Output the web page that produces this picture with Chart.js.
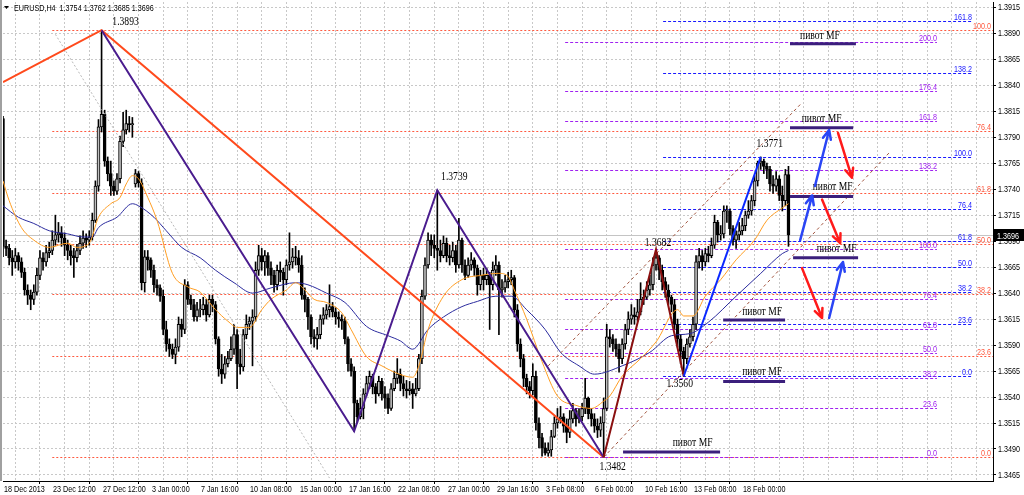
<!DOCTYPE html>
<html>
<head>
<meta charset="utf-8">
<script src="https://cdn.jsdelivr.net/npm/chart.js@4.4.1/dist/chart.umd.min.js"></script>
<style>
html, body { margin: 0; padding: 0; background: #fff; }
#wrap { position: relative; width: 1024px; height: 495px; }
</style>
</head>
<body>
<div id="wrap"><canvas id="chart"></canvas></div>
<script>
// ==================== DATA ====================
const symbolTitle = 'EURUSD,H4';
const lastQuote = [1.3754, 1.3762, 1.3685, 1.3696]; // O H L C of last bar

const timeLabels = ['18 Dec 2013', '23 Dec 12:00', '27 Dec 12:00', '3 Jan 00:00', '7 Jan 16:00', '10 Jan 08:00',
    '15 Jan 00:00', '17 Jan 16:00', '22 Jan 08:00', '27 Jan 00:00', '29 Jan 16:00', '3 Feb 08:00',
    '6 Feb 00:00', '10 Feb 16:00', '13 Feb 08:00', '18 Feb 00:00'];

const priceTicks = [1.3465, 1.3490, 1.3515, 1.3540, 1.3565, 1.3590, 1.3615, 1.3640, 1.3665, 1.3690,
    1.3715, 1.3740, 1.3765, 1.3790, 1.3815, 1.3840, 1.3865, 1.3890, 1.3915];

const firstOpen = 1.3808;
const gapOpens = { 43: 1.3745 };

const closes = [
    1.3685,1.3683,1.3674,1.3670,1.3676,1.3670,1.3660,1.3643,1.3638,1.3634,1.3641,1.3657,1.3674,1.3670,1.3679,1.3681,
    1.3691,1.3696,1.3698,1.3693,1.3686,1.3681,1.3676,1.3674,1.3681,1.3688,1.3693,1.3691,1.3694,1.3710,1.3743,1.3800,
    1.3812,1.3767,1.3755,1.3743,1.3738,1.3750,1.3786,1.3797,1.3803,1.3802,1.3803,1.3755,1.3746,1.3650,1.3675,1.3672,
    1.3662,1.3648,1.3645,1.3637,1.3605,1.3591,1.3586,1.3581,1.3588,1.3610,1.3605,1.3648,1.3634,1.3629,1.3617,1.3624,
    1.3624,1.3629,1.3619,1.3634,1.3629,1.3596,1.3567,1.3562,1.3572,1.3577,1.3586,1.3600,1.3572,1.3569,1.3600,1.3610,
    1.3613,1.3617,1.3662,1.3676,1.3670,1.3676,1.3664,1.3657,1.3648,1.3662,1.3660,1.3653,1.3667,1.3670,1.3675,1.3674,
    1.3667,1.3638,1.3634,1.3617,1.3598,1.3596,1.3600,1.3615,1.3619,1.3624,1.3627,1.3622,1.3617,1.3615,1.3613,1.3596,
    1.3572,1.3565,1.3534,1.3521,1.3529,1.3543,1.3553,1.3560,1.3550,1.3543,1.3555,1.3543,1.3539,1.3529,1.3548,1.3558,
    1.3562,1.3553,1.3548,1.3546,1.3548,1.3543,1.3548,1.3577,1.3637,1.3667,1.3691,1.3686,1.3683,1.3681,1.3676,1.3688,
    1.3676,1.3674,1.3681,1.3667,1.3691,1.3667,1.3657,1.3667,1.3672,1.3664,1.3648,1.3657,1.3653,1.3657,1.3648,1.3662,
    1.3667,1.3643,1.3645,1.3651,1.3653,1.3655,1.3624,1.3591,1.3577,1.3558,1.3550,1.3546,1.3560,1.3515,1.3501,1.3491,
    1.3486,1.3489,1.3502,1.3515,1.3519,1.3521,1.3512,1.3506,1.3519,1.3527,1.3519,1.3521,1.3529,1.3539,1.3524,1.3519,
    1.3512,1.3508,1.3515,1.3529,1.3598,1.3596,1.3591,1.3586,1.3577,1.3591,1.3605,1.3615,1.3619,1.3617,1.3622,1.3634,
    1.3636,1.3643,1.3648,1.3667,1.3674,1.3662,1.3651,1.3643,1.3636,1.3629,1.3610,1.3596,1.3584,1.3577,1.3591,1.3598,
    1.3610,1.3670,1.3676,1.3670,1.3678,1.3676,1.3686,1.3708,1.3696,1.3697,1.3719,1.3719,1.3702,1.3691,1.3696,1.3700,
    1.3705,1.3715,1.3719,1.3729,1.3748,1.3765,1.3767,1.3762,1.3759,1.3745,1.3743,1.3750,1.3734,1.3729,1.3754,1.3696
];
const highs = [
    1.3810,1.3691,1.3687,1.3681,1.3683,1.3679,1.3674,1.3664,1.3648,1.3643,1.3648,1.3664,1.3681,1.3679,1.3686,1.3689,
    1.3700,1.3715,1.3708,1.3704,1.3698,1.3691,1.3686,1.3683,1.3687,1.3695,1.3700,1.3697,1.3700,1.3717,1.3748,1.3807,
    1.3893,1.3816,1.3771,1.3767,1.3748,1.3755,1.3791,1.3814,1.3816,1.3810,1.3809,1.3759,1.3757,1.3750,1.3681,1.3681,
    1.3674,1.3667,1.3653,1.3648,1.3643,1.3613,1.3596,1.3591,1.3596,1.3617,1.3615,1.3653,1.3651,1.3638,1.3634,1.3631,
    1.3634,1.3636,1.3634,1.3638,1.3638,1.3632,1.3598,1.3581,1.3579,1.3584,1.3598,1.3610,1.3605,1.3586,1.3605,1.3619,
    1.3617,1.3624,1.3670,1.3686,1.3683,1.3681,1.3679,1.3670,1.3662,1.3667,1.3670,1.3664,1.3672,1.3698,1.3683,1.3685,
    1.3681,1.3676,1.3645,1.3636,1.3619,1.3605,1.3607,1.3619,1.3626,1.3629,1.3648,1.3631,1.3626,1.3622,1.3619,1.3617,
    1.3598,1.3577,1.3569,1.3537,1.3539,1.3548,1.3560,1.3565,1.3562,1.3553,1.3560,1.3558,1.3550,1.3543,1.3553,1.3565,
    1.3577,1.3567,1.3560,1.3556,1.3555,1.3553,1.3558,1.3581,1.3643,1.3674,1.3698,1.3696,1.3696,1.3739,1.3691,1.3695,
    1.3693,1.3686,1.3689,1.3686,1.3712,1.3693,1.3672,1.3674,1.3679,1.3674,1.3667,1.3662,1.3664,1.3664,1.3660,1.3670,
    1.3676,1.3670,1.3653,1.3657,1.3660,1.3662,1.3657,1.3629,1.3596,1.3581,1.3562,1.3555,1.3572,1.3565,1.3520,1.3505,
    1.3496,1.3496,1.3508,1.3521,1.3529,1.3531,1.3524,1.3519,1.3527,1.3534,1.3529,1.3529,1.3534,1.3558,1.3540,1.3529,
    1.3524,1.3519,1.3521,1.3539,1.3610,1.3605,1.3600,1.3596,1.3591,1.3596,1.3610,1.3622,1.3629,1.3626,1.3634,1.3650,
    1.3643,1.3651,1.3657,1.3674,1.3682,1.3676,1.3667,1.3655,1.3648,1.3638,1.3634,1.3615,1.3600,1.3588,1.3596,1.3605,
    1.3617,1.3676,1.3683,1.3681,1.3683,1.3685,1.3693,1.3715,1.3710,1.3705,1.3724,1.3724,1.3721,1.3705,1.3700,1.3708,
    1.3712,1.3719,1.3729,1.3734,1.3753,1.3767,1.3771,1.3769,1.3765,1.3762,1.3753,1.3757,1.3753,1.3743,1.3759,1.3762
];
const lows = [
    1.3675,1.3676,1.3667,1.3657,1.3664,1.3662,1.3655,1.3638,1.3629,1.3624,1.3629,1.3638,1.3653,1.3662,1.3666,1.3674,
    1.3677,1.3686,1.3689,1.3685,1.3676,1.3672,1.3667,1.3655,1.3670,1.3677,1.3683,1.3684,1.3686,1.3691,1.3708,1.3738,
    1.3795,1.3762,1.3748,1.3734,1.3734,1.3735,1.3746,1.3781,1.3793,1.3795,1.3790,1.3742,1.3742,1.3643,1.3641,1.3662,
    1.3655,1.3641,1.3638,1.3632,1.3600,1.3584,1.3579,1.3577,1.3572,1.3584,1.3598,1.3601,1.3629,1.3624,1.3613,1.3613,
    1.3617,1.3619,1.3613,1.3617,1.3622,1.3591,1.3560,1.3553,1.3558,1.3569,1.3575,1.3581,1.3548,1.3562,1.3565,1.3596,
    1.3605,1.3570,1.3613,1.3657,1.3662,1.3657,1.3657,1.3648,1.3641,1.3643,1.3651,1.3638,1.3648,1.3662,1.3664,1.3667,
    1.3660,1.3634,1.3622,1.3605,1.3591,1.3588,1.3586,1.3596,1.3610,1.3615,1.3617,1.3617,1.3610,1.3607,1.3605,1.3591,
    1.3565,1.3560,1.3507,1.3515,1.3519,1.3519,1.3541,1.3548,1.3543,1.3534,1.3541,1.3537,1.3529,1.3524,1.3527,1.3546,
    1.3553,1.3546,1.3541,1.3539,1.3542,1.3529,1.3541,1.3546,1.3572,1.3634,1.3664,1.3676,1.3674,1.3662,1.3670,1.3674,
    1.3670,1.3667,1.3670,1.3660,1.3664,1.3660,1.3653,1.3655,1.3662,1.3657,1.3638,1.3643,1.3643,1.3648,1.3605,1.3643,
    1.3657,1.3600,1.3636,1.3641,1.3645,1.3648,1.3617,1.3584,1.3569,1.3550,1.3543,1.3539,1.3542,1.3508,1.3491,1.3483,
    1.3484,1.3483,1.3483,1.3501,1.3510,1.3515,1.3506,1.3496,1.3501,1.3515,1.3512,1.3515,1.3517,1.3524,1.3519,1.3512,
    1.3506,1.3501,1.3502,1.3482,1.3527,1.3588,1.3584,1.3579,1.3564,1.3572,1.3586,1.3600,1.3610,1.3610,1.3613,1.3619,
    1.3629,1.3634,1.3638,1.3643,1.3662,1.3653,1.3643,1.3636,1.3629,1.3622,1.3605,1.3588,1.3572,1.3560,1.3572,1.3588,
    1.3594,1.3605,1.3664,1.3662,1.3666,1.3670,1.3674,1.3683,1.3689,1.3691,1.3693,1.3708,1.3696,1.3686,1.3683,1.3691,
    1.3696,1.3700,1.3712,1.3715,1.3724,1.3743,1.3759,1.3755,1.3750,1.3738,1.3736,1.3738,1.3729,1.3719,1.3724,1.3685
];

// moving averages at a few bars
const maFastBars = [0,2,6,10,15,21,24,28,31,35,38,40,42,44,47,50,55,60,64,69,73,76,80,84,87,92,95,98,101,105,
    110,113,118,123,127,133,135,138,143,149,155,161,164,166,170,175,180,186,191,195,197,201,207,212,219,221,224,228,233,238,
    244,248,253,255];
const maFastValues = [1.3748,1.3729,1.3703,1.3691,1.3684,1.3688,1.3684,1.3688,1.3713,1.3726,1.3732,1.3745,1.3753,1.3750,1.3732,
    1.3710,1.3659,1.3646,1.3641,1.3624,1.3613,1.3607,1.3607,1.3624,1.3634,1.3643,1.3650,1.3643,1.3634,1.3631,1.3621,1.3605,
    1.3579,1.3570,1.3564,1.3559,1.3570,1.3605,1.3637,1.3653,1.3657,1.3659,1.3656,1.3643,1.3615,1.3574,1.3541,1.3532,1.3529,
    1.3536,1.3541,1.3560,1.3577,1.3593,1.3624,1.3618,1.3618,1.3637,1.3653,1.3672,1.3691,1.3710,1.3722,1.3726];
const maSlowBars = [0,5,10,15,21,26,29,31,37,42,44,49,53,58,64,69,75,81,87,95,99,105,111,118,125,129,133,138,143,149,
    154,160,165,170,176,181,187,192,201,210,217,223,229,238,246,253,255];
const maSlowValues = [1.3724,1.3713,1.3707,1.3700,1.3697,1.3694,1.3694,1.3703,1.3713,1.3726,1.3724,1.3713,1.3700,1.3684,1.3674,
    1.3662,1.3650,1.3640,1.3645,1.3650,1.3648,1.3640,1.3631,1.3608,1.3599,1.3594,1.3586,1.3605,1.3617,1.3627,1.3632,1.3637,
    1.3637,1.3624,1.3605,1.3583,1.3570,1.3562,1.3570,1.3583,1.3599,1.3601,1.3612,1.3637,1.3659,1.3678,1.3681];

// swing points of the wave markup
const swingBars = [32, 114, 141, 195, 212, 221, 246];
const swingPrices = [1.3893, 1.3507, 1.3739, 1.3482, 1.3682, 1.3560, 1.3771];
const swingLabelShift = [[24, -5], null, [17, -10], [9, 13], [2, -3], [-4, 11], [9, -10]];

const trendStart = [0, 1.3843];

// fibo levels (percent)
const fiboShort = [0, 23.6, 38.2, 50, 61.8, 76.4, 100];
const fiboMid = [0, 23.6, 38.2, 50, 61.8, 76.4, 100, 138.2, 161.8];
const fiboLong = [0, 23.6, 38.2, 50, 61.8, 76.4, 100, 138.2, 161.8, 176.4, 200];

// "pivot MF" marks
const pivotPrices = [1.3880, 1.3799, 1.3733, 1.3674, 1.3614, 1.3555, 1.3487];
const pivotFrom = [255.5, 255.5, 255.5, 256.5, 233.8, 233.8, 201.3];
const pivotTo = [276.9, 276.0, 276.0, 277.6, 253.9, 253.9, 232.8];
const pivotTextShift = [[-3, -5], [0, -6], [11, -6], [11, -6], [8, -5], [8, -6], [21, -6]];

// arrows: [barFrom, priceFrom, barTo, priceTo]
const blueArrows = [[263.6, 1.3743, 268.2, 1.3797], [258.8, 1.3691, 262.7, 1.3734], [268.2, 1.3616, 272.7, 1.3670]];
const redArrows = [[271.1, 1.3794, 275.6, 1.3751], [265.9, 1.3730, 271.8, 1.3688], [259.4, 1.3664, 265.9, 1.3616]];

// ==================== BUILD ====================
const opens = closes.map((c, i) => i === 0 ? firstOpen : (gapOpens[i] !== undefined ? gapOpens[i] : closes[i - 1]));
const wickData = closes.map((c, i) => ({ x: i, y: [lows[i], highs[i]] }));
const bodyData = closes.map((c, i) => ({ x: i, y: [opens[i], c] }));
const bodyFill = closes.map((c, i) => c >= opens[i] ? '#c0c0c0' : '#000000');

const pts = (bars, vals) => bars.map((b, i) => ({ x: b, y: vals[i] }));
const seg = idx => idx.map(k => ({ x: swingBars[k], y: swingPrices[k] }));

const pivotData = [];
pivotPrices.forEach((p, i) => {
    pivotData.push({ x: pivotFrom[i], y: p }, { x: pivotTo[i], y: p }, { x: pivotTo[i] + 0.1, y: null });
});

const fiboSets = [
    { lo: 1.3482, hi: 1.3893, from: 16.0, to: 321.4, levels: fiboShort, color: '#ff5a40', dash: [2, 2], labelRight: 991 },
    { lo: 1.3560, hi: 1.3771, from: 214.3, to: 314.6, levels: fiboMid, color: '#1a1aff', dash: [3, 2], labelRight: 972 },
    { lo: 1.3482, hi: 1.3682, from: 182.5, to: 303.2, levels: fiboLong, color: '#a022f0', dash: [3, 2], labelRight: 937 }
];

const SANS = '"Liberation Sans", Arial, sans-serif';
const SERIF = '"Liberation Serif", "Times New Roman", serif';

function squeezeText(ctx, text, x, y, align, font, color) {
    ctx.save();
    ctx.font = font;
    ctx.fillStyle = color;
    ctx.textAlign = align;
    ctx.textBaseline = 'alphabetic';
    ctx.translate(x, y);
    ctx.scale(0.8, 1);
    ctx.fillText(text, 0, 0);
    ctx.restore();
}

function drawArrow(ctx, x1, y1, x2, y2, color) {
    const ang = Math.atan2(y2 - y1, x2 - x1);
    const head = 10, spread = 0.42;
    ctx.save();
    ctx.strokeStyle = color;
    ctx.lineWidth = 2.5;
    ctx.lineCap = 'round';
    ctx.lineJoin = 'round';
    ctx.beginPath();
    ctx.moveTo(x1, y1);
    ctx.lineTo(x2, y2);
    ctx.moveTo(x2 - head * Math.cos(ang - spread), y2 - head * Math.sin(ang - spread));
    ctx.lineTo(x2, y2);
    ctx.lineTo(x2 - head * Math.cos(ang + spread), y2 - head * Math.sin(ang + spread));
    ctx.stroke();
    ctx.restore();
}

// ==================== OVERLAY PLUGIN ====================
const overlay = {
    id: 'overlay',
    beforeDatasetsDraw(chart) {
        const { ctx, chartArea: a, scales: { x, y } } = chart;
        ctx.save();
        ctx.beginPath();
        ctx.rect(a.left, a.top, a.width, a.height);
        ctx.clip();

        // bid line
        const py = Math.round(y.getPixelForValue(lastQuote[3])) + 0.5;
        ctx.strokeStyle = '#c4c4c4';
        ctx.lineWidth = 1;
        ctx.beginPath();
        ctx.moveTo(a.left, py);
        ctx.lineTo(a.right, py);
        ctx.stroke();

        // fibo grids
        fiboSets.forEach(f => {
            const x1 = x.getPixelForValue(f.from), x2 = x.getPixelForValue(f.to);
            f.levels.forEach(lv => {
                const price = f.lo + (f.hi - f.lo) * lv / 100;
                const yy = Math.round(y.getPixelForValue(price)) + 0.5;
                ctx.strokeStyle = f.color;
                ctx.setLineDash(f.dash);
                ctx.beginPath();
                ctx.moveTo(x1, yy);
                ctx.lineTo(x2, yy);
                ctx.stroke();
                ctx.setLineDash([]);
                squeezeText(ctx, lv.toFixed(1), f.labelRight, yy - 2, 'right', '9px ' + SANS, f.color);
            });
        });
        ctx.restore();
    },
    afterDatasetsDraw(chart) {
        const { ctx, scales: { x, y } } = chart;

        // swing price labels
        swingBars.forEach((b, i) => {
            const s = swingLabelShift[i];
            if (!s) return;
            squeezeText(ctx, swingPrices[i].toFixed(4), x.getPixelForValue(b) + s[0], y.getPixelForValue(swingPrices[i]) + s[1],
                'center', '12px ' + SERIF, '#000');
        });

        // pivot captions
        pivotPrices.forEach((p, i) => {
            const cx = (x.getPixelForValue(pivotFrom[i]) + x.getPixelForValue(pivotTo[i])) / 2;
            squeezeText(ctx, 'пивот MF', cx + pivotTextShift[i][0], y.getPixelForValue(p) + pivotTextShift[i][1],
                'center', '12px ' + SERIF, '#000');
        });

        // arrows
        blueArrows.forEach(r => drawArrow(ctx, x.getPixelForValue(r[0]), y.getPixelForValue(r[1]),
            x.getPixelForValue(r[2]), y.getPixelForValue(r[3]), '#2a45f5'));
        redArrows.forEach(r => drawArrow(ctx, x.getPixelForValue(r[0]), y.getPixelForValue(r[1]),
            x.getPixelForValue(r[2]), y.getPixelForValue(r[3]), '#ff1a1a'));
    },
    afterDraw(chart) {
        const { ctx, chartArea: a, scales: { x, y } } = chart;
        ctx.save();

        // window frame on the left
        ctx.fillStyle = '#a0a0a0';
        ctx.fillRect(0, 0, 2, a.bottom);

        // axis labels, narrow like the terminal font
        priceTicks.forEach(v => {
            squeezeText(ctx, v.toFixed(4), a.right + 5, Math.round(y.getPixelForValue(v)) + 3, 'left', '9px ' + SANS, '#000');
        });
        timeLabels.forEach((t, i) => {
            squeezeText(ctx, t, Math.round(x.getPixelForValue(i * 16)) + 1, a.bottom + 11, 'left', '9px ' + SANS, '#000');
        });

        // title
        ctx.fillStyle = '#000';
        ctx.beginPath();
        ctx.moveTo(4, 6);
        ctx.lineTo(9, 6);
        ctx.lineTo(6.5, 9);
        ctx.closePath();
        ctx.fill();
        squeezeText(ctx, symbolTitle + '  ' + lastQuote.map(v => v.toFixed(4)).join(' '), 14, 11, 'left', '9px ' + SANS, '#000');

        // last price tag
        const py = Math.round(y.getPixelForValue(lastQuote[3]));
        ctx.fillStyle = '#000';
        ctx.fillRect(a.right + 1, py - 6, 1024 - a.right, 12);
        squeezeText(ctx, lastQuote[3].toFixed(4), a.right + 4, py + 4, 'left', '9px ' + SANS, '#fff');
        ctx.restore();
    }
};

// ==================== CHART ====================
const lineSet = (data, color, width, order, extra) => Object.assign({
    type: 'line', data, borderColor: color, borderWidth: width, pointRadius: 0, fill: false, tension: 0, order
}, extra || {});

const datasets = [
    { type: 'bar', data: wickData, backgroundColor: '#000', barThickness: 1, grouped: false, order: 20 },
    { type: 'bar', data: bodyData, backgroundColor: bodyFill, borderColor: '#000', borderWidth: 1, borderSkipped: false,
      barThickness: 3, grouped: false, minBarLength: 1, order: 19 },
    lineSet(pts(maSlowBars, maSlowValues), '#2b2b9e', 1, 18, { cubicInterpolationMode: 'monotone' }),
    lineSet(pts(maFastBars, maFastValues), '#ff9d22', 1, 17, { cubicInterpolationMode: 'monotone' }),
    lineSet([{ x: 17, y: 1.3889 }, { x: 106, y: 1.3462 }], '#b8b8b8', 1, 16, { borderDash: [2, 2] }),
    lineSet([{ x: 177, y: 1.3570 }, { x: 259, y: 1.3822 }], '#a0523c', 1, 15, { borderDash: [3, 3] }),
    lineSet([{ x: 195, y: 1.3482 }, { x: 288, y: 1.3776 }], '#a0523c', 1, 15, { borderDash: [3, 3] }),
    lineSet([{ x: trendStart[0], y: trendStart[1] }].concat(seg([0, 3])), '#ff4a1c', 2, 12),
    lineSet(seg([0, 1, 2, 3]), '#4a1c8e', 2, 11),
    lineSet(seg([3, 4, 5]), '#8a1010', 2, 10),
    lineSet(seg([5, 6]), '#0a28ff', 2, 9),
    lineSet(pivotData, '#3b1f7c', 3, 8, { spanGaps: false })
];

const gridBars = [];
for (let b = 0; b <= 320; b += 8) gridBars.push(b);

new Chart(document.getElementById('chart'), {
    type: 'line',
    data: { datasets },
    options: {
        responsive: true,
        maintainAspectRatio: false,
        animation: false,
        events: [],
        layout: { padding: { left: 3, top: 2, right: 0, bottom: 0 } },
        plugins: { legend: { display: false }, tooltip: { enabled: false } },
        scales: {
            x: {
                type: 'linear', min: 0, max: 321.4, offset: false,
                afterBuildTicks: s => { s.ticks = gridBars.map(v => ({ value: v })); },
                afterFit: s => { s.height = 14; },
                ticks: { display: false },
                grid: {
                    color: '#c8c8c8', lineWidth: 1, drawTicks: true, tickLength: 3,
                    tickColor: c => (c.tick && c.tick.value % 16 === 0 && c.tick.value <= 240) ? '#000' : 'rgba(0,0,0,0)'
                },
                border: { display: true, color: '#000', width: 1, dash: [2, 2] }
            },
            y: {
                type: 'linear', position: 'right', min: 1.34592, max: 1.39201,
                afterBuildTicks: s => { s.ticks = priceTicks.map(v => ({ value: v })); },
                afterFit: s => { s.width = 31; },
                ticks: { display: false },
                grid: { color: '#c8c8c8', lineWidth: 1, drawTicks: true, tickLength: 3, tickColor: '#000' },
                border: { display: true, color: '#000', width: 1, dash: [2, 2] }
            }
        }
    },
    plugins: [overlay]
});
</script>
</body>
</html>
